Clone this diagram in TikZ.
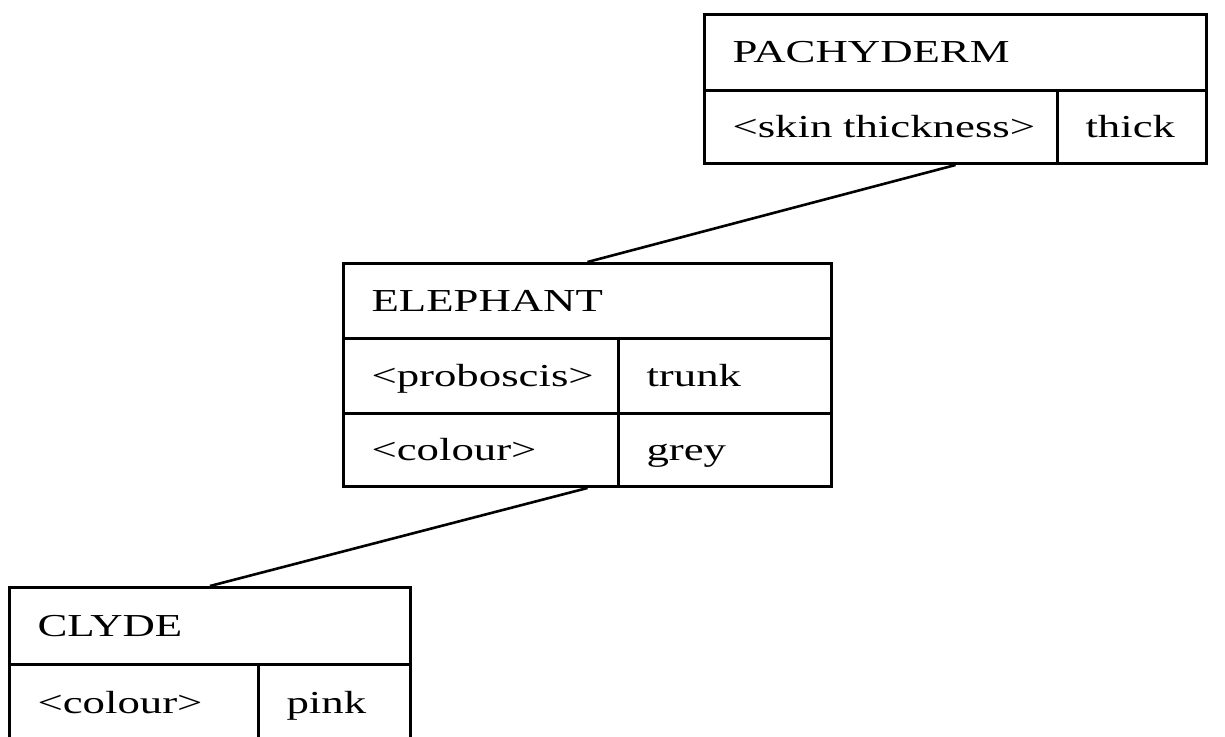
\documentclass[tikz,border=0pt]{standalone}
\usepackage{xcolor}
\usepackage{fontspec}
\setmainfont{Liberation Serif}[FakeStretch=1.40]
\usepackage{tikz}

\tikzset{
  frame/.style={draw, line width=1.5pt, anchor=north west, inner xsep=14pt, inner ysep=0pt,
    align=left, text height=10.5pt, text depth=0pt, font=\fontsize{16}{18}\selectfont},
  isa/.style={line width=1.3pt}
}

\begin{document}
\begin{tikzpicture}[x=0.5pt,y=-0.5pt]
\clip (0,0) rectangle (1225,737);
% PACHYDERM
\node[frame, text width=223pt, minimum height=38pt] (pachy) at (703,13) {PACHYDERM};
\node[frame, text width=148.5pt, minimum height=36.5pt] (pachyskin) at (703,89) {\mbox{<skin thickness>}};
\node[frame, text width=46.5pt, minimum height=36.5pt] (pachythick) at (1056,89) {thick};
% ELEPHANT
\node[frame, text width=216pt, minimum height=37.5pt] (eleph) at (342,262) {ELEPHANT};
\node[frame, text width=109.5pt, minimum height=37.5pt] (elephprob) at (342,337) {\mbox{<proboscis>}};
\node[frame, text width=78.5pt, minimum height=37.5pt] (elephtrunk) at (617,337) {trunk};
\node[frame, text width=109.5pt, minimum height=36.5pt] (elephcol) at (342,412) {<colour>};
\node[frame, text width=78.5pt, minimum height=36.5pt] (elephgrey) at (617,412) {grey};
% CLYDE
\node[frame, text width=172.5pt, minimum height=38.5pt] (clyde) at (8,586) {CLYDE};
\node[frame, text width=96.5pt, minimum height=38.5pt] (clydecol) at (8,663) {<colour>};
\node[frame, text width=48pt, minimum height=38.5pt] (clydepink) at (257,663) {pink};

\draw[isa] (pachy |- pachyskin.south) -- (eleph.north);
\draw[isa] (eleph |- elephcol.south) -- (clyde.north);
\end{tikzpicture}
\end{document}
